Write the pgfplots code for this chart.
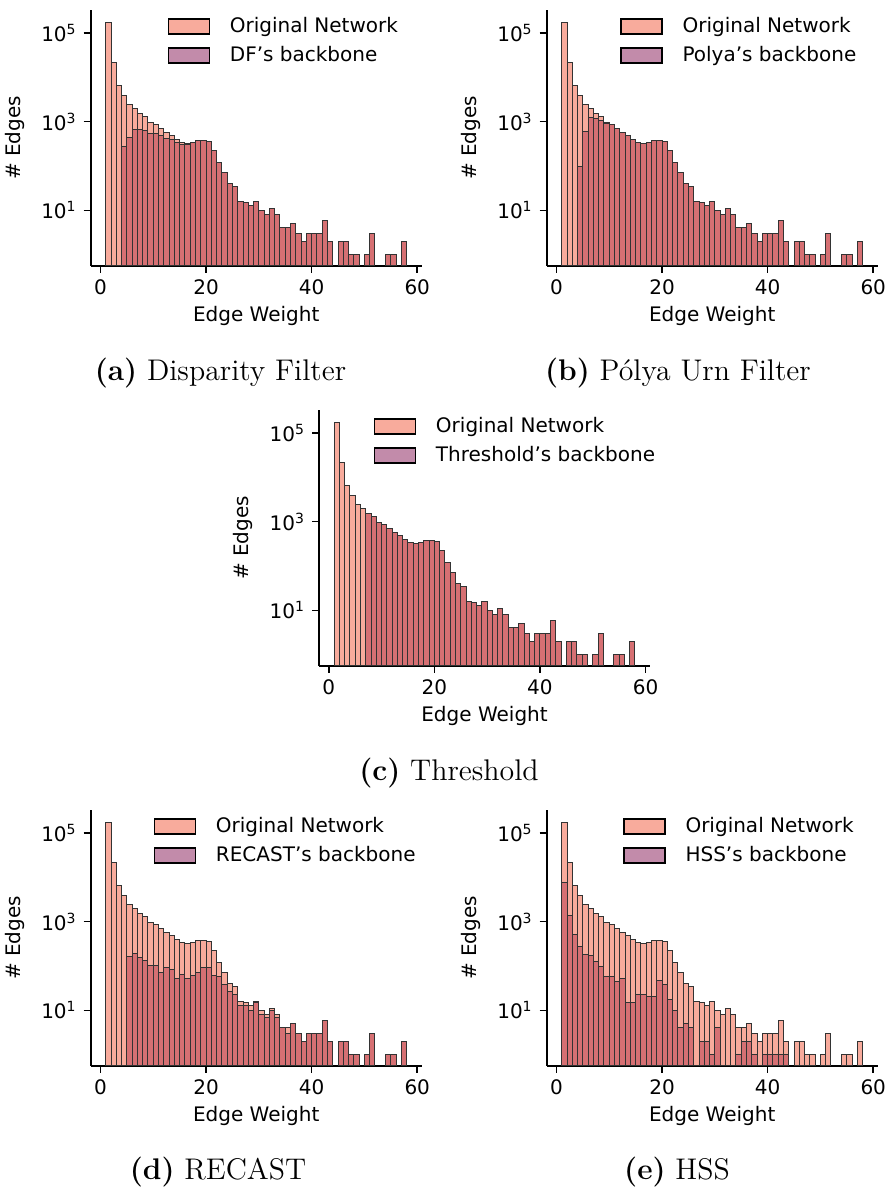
\documentclass[border=0pt]{standalone}
\usepackage{graphicx}
\usepackage{pgfplots}
\pgfplotsset{compat=1.18}
\usepackage{pgfplotstable}
\usepackage{fontspec}
\newfontfamily\dejavu{DejaVu Sans}
\definecolor{origc}{HTML}{F8AB9C}
\definecolor{overc}{HTML}{D67073}
\definecolor{purpc}{HTML}{C28BAA}

\pgfplotstableread{
x y
1.5 174000
2.5 21500
3.5 6700
4.5 3900
5.5 2480
6.5 1970
7.5 1530
8.5 1300
9.5 950
10.5 870
11.5 700
12.5 580
13.5 490
14.5 400
15.5 345
16.5 320
17.5 335
18.5 375
19.5 375
20.5 360
21.5 225
22.5 120
23.5 70
24.5 41
25.5 35
26.5 16
27.5 15
28.5 13
29.5 16
30.5 10
31.5 8
32.5 11
33.5 8
34.5 4
35.5 4
36.5 5
37.5 3
38.5 2
39.5 3
40.5 3
41.5 3
42.5 6
43.5 2
45.5 2
46.5 2
47.5 1
48.5 1
50.5 1
51.5 3
54.5 1
55.5 1
57.5 2
}\tabOrig

\pgfplotstableread{
x y
4.5 275
5.5 430
6.5 670
7.5 670
8.5 630
9.5 540
10.5 540
11.5 480
12.5 420
13.5 390
14.5 330
15.5 300
16.5 300
17.5 335
18.5 370
19.5 375
20.5 360
21.5 225
22.5 120
23.5 70
24.5 41
25.5 35
26.5 16
27.5 15
28.5 13
29.5 16
30.5 10
31.5 8
32.5 11
33.5 8
34.5 4
35.5 4
36.5 5
37.5 3
38.5 2
39.5 3
40.5 3
41.5 3
42.5 6
43.5 2
45.5 2
46.5 2
47.5 1
48.5 1
50.5 1
51.5 3
54.5 1
55.5 1
57.5 2
}\tabDF

\pgfplotstableread{
x y
4.5 98
5.5 600
6.5 1240
7.5 1150
8.5 1050
9.5 920
10.5 860
11.5 700
12.5 580
13.5 490
14.5 400
15.5 345
16.5 320
17.5 335
18.5 375
19.5 375
20.5 360
21.5 225
22.5 120
23.5 70
24.5 41
25.5 35
26.5 16
27.5 15
28.5 13
29.5 16
30.5 10
31.5 8
32.5 11
33.5 8
34.5 4
35.5 4
36.5 5
37.5 3
38.5 2
39.5 3
40.5 3
41.5 3
42.5 6
43.5 2
45.5 2
46.5 2
47.5 1
48.5 1
50.5 1
51.5 3
54.5 1
55.5 1
57.5 2
}\tabPolya

\pgfplotstableread{
x y
7.5 1530
8.5 1300
9.5 950
10.5 870
11.5 700
12.5 580
13.5 490
14.5 400
15.5 345
16.5 320
17.5 335
18.5 375
19.5 375
20.5 360
21.5 225
22.5 120
23.5 70
24.5 41
25.5 35
26.5 16
27.5 15
28.5 13
29.5 16
30.5 10
31.5 8
32.5 11
33.5 8
34.5 4
35.5 4
36.5 5
37.5 3
38.5 2
39.5 3
40.5 3
41.5 3
42.5 6
43.5 2
45.5 2
46.5 2
47.5 1
48.5 1
50.5 1
51.5 3
54.5 1
55.5 1
57.5 2
}\tabThr

\pgfplotstableread{
x y
5.5 163
6.5 193
7.5 157
8.5 132
9.5 105
10.5 105
11.5 72
12.5 93
13.5 84
14.5 53
15.5 63
16.5 53
17.5 60
18.5 71
19.5 93
20.5 93
21.5 60
22.5 58
23.5 39
24.5 26
25.5 23
26.5 13
27.5 13
28.5 10
29.5 15
30.5 8
31.5 7
32.5 10
33.5 7
34.5 4
35.5 3
36.5 5
37.5 3
38.5 2
39.5 3
40.5 3
41.5 3
42.5 6
43.5 2
45.5 2
46.5 2
47.5 1
48.5 1
50.5 1
51.5 3
54.5 1
55.5 1
57.5 2
}\tabRecast

\pgfplotstableread{
x y
1.5 7700
2.5 1400
3.5 520
4.5 273
5.5 177
6.5 171
7.5 125
8.5 97
9.5 57
10.5 57
11.5 44
12.5 53
13.5 15
14.5 15
15.5 23
16.5 23
17.5 21
18.5 21
19.5 47
20.5 38
21.5 18
22.5 10
23.5 4
24.5 5
25.5 4
27.5 2
28.5 2
29.5 1
30.5 4
34.5 1
35.5 2
36.5 2
37.5 1
39.5 1
40.5 1
41.5 1
42.5 1
43.5 1
}\tabHSS

\newcommand\capt[1]{\scalebox{1.11}{\fontsize{13.45}{16}\selectfont #1}}

\begin{document}
\begin{tikzpicture}
\useasboundingbox (0,0) rectangle (443.5pt,594.5pt);

% (a)
\begin{axis}[at={(45.35pt,461.5pt)}, anchor=south west,
    scale only axis, width=165.5pt, height=128pt,
    ymode=log, log origin=infty,
    xmin=-1.85, xmax=60.85, ymin=0.555, ymax=3.3e5,
    axis lines=left, axis line style={-, line width=0.8pt},
    xtick={0,20,40,60}, xticklabels={0,20,40,60},
    ytick={10,1000,100000},
    yticklabels={10\textsuperscript{1},10\textsuperscript{3},10\textsuperscript{5}},
    yminorticks=false, xminorticks=false,
    tick style={black, line width=0.8pt},
    tick align=outside, major tick length=3.5pt,
    tick label style={font=\dejavu\fontsize{10}{12}\selectfont},
    xlabel={Edge Weight}, ylabel={\# Edges},
    label style={font=\dejavu\fontsize{10}{12}\selectfont},
    xlabel style={at={(axis description cs:0.5,0)}, anchor=center, yshift=-25pt},
    ylabel style={at={([xshift=-29.5pt]axis description cs:0,0.5)}, anchor=south},
    clip=false,
    legend style={draw=none, fill=none, inner sep=0pt, row sep=1.5pt, column sep=7.85pt,
      font=\dejavu\fontsize{10}{12}\selectfont, anchor=north west,
      at={(axis description cs:0.231,0.988)}},
    legend cell align=left,
    legend image code/.code={\draw[#1, line width=0.8pt, draw=black] (0pt,-3.75pt) rectangle (20.5pt,3.75pt);},
  ]
\addplot[ybar, bar width=1, bar shift=0pt, fill=origc, draw=black!80, line width=0.5pt] table {\tabOrig};
\addplot[ybar, bar width=1, bar shift=0pt, fill=overc, draw=black!80, line width=0.5pt,
   legend image post style={fill=purpc}] table {\tabDF};
\legend{Original Network, DF’s backbone}
\end{axis}

% (b)
\begin{axis}[at={(273.35pt,461.5pt)}, anchor=south west,
    scale only axis, width=165.5pt, height=128pt,
    ymode=log, log origin=infty,
    xmin=-1.85, xmax=60.85, ymin=0.555, ymax=3.3e5,
    axis lines=left, axis line style={-, line width=0.8pt},
    xtick={0,20,40,60}, xticklabels={0,20,40,60},
    ytick={10,1000,100000},
    yticklabels={10\textsuperscript{1},10\textsuperscript{3},10\textsuperscript{5}},
    yminorticks=false, xminorticks=false,
    tick style={black, line width=0.8pt},
    tick align=outside, major tick length=3.5pt,
    tick label style={font=\dejavu\fontsize{10}{12}\selectfont},
    xlabel={Edge Weight}, ylabel={\# Edges},
    label style={font=\dejavu\fontsize{10}{12}\selectfont},
    xlabel style={at={(axis description cs:0.5,0)}, anchor=center, yshift=-25pt},
    ylabel style={at={([xshift=-29.5pt]axis description cs:0,0.5)}, anchor=south},
    clip=false,
    legend style={draw=none, fill=none, inner sep=0pt, row sep=1.5pt, column sep=7.85pt,
      font=\dejavu\fontsize{10}{12}\selectfont, anchor=north west,
      at={(axis description cs:0.221,0.988)}},
    legend cell align=left,
    legend image code/.code={\draw[#1, line width=0.8pt, draw=black] (0pt,-3.75pt) rectangle (20.5pt,3.75pt);},
  ]
\addplot[ybar, bar width=1, bar shift=0pt, fill=origc, draw=black!80, line width=0.5pt] table {\tabOrig};
\addplot[ybar, bar width=1, bar shift=0pt, fill=overc, draw=black!80, line width=0.5pt,
   legend image post style={fill=purpc}] table {\tabPolya};
\legend{Original Network, Polya’s backbone}
\end{axis}

% (c)
\begin{axis}[at={(159.5pt,261.5pt)}, anchor=south west,
    scale only axis, width=165.5pt, height=128pt,
    ymode=log, log origin=infty,
    xmin=-1.85, xmax=60.85, ymin=0.555, ymax=3.3e5,
    axis lines=left, axis line style={-, line width=0.8pt},
    xtick={0,20,40,60}, xticklabels={0,20,40,60},
    ytick={10,1000,100000},
    yticklabels={10\textsuperscript{1},10\textsuperscript{3},10\textsuperscript{5}},
    yminorticks=false, xminorticks=false,
    tick style={black, line width=0.8pt},
    tick align=outside, major tick length=3.5pt,
    tick label style={font=\dejavu\fontsize{10}{12}\selectfont},
    xlabel={Edge Weight}, ylabel={\# Edges},
    label style={font=\dejavu\fontsize{10}{12}\selectfont},
    xlabel style={at={(axis description cs:0.5,0)}, anchor=center, yshift=-25pt},
    ylabel style={at={([xshift=-29.5pt]axis description cs:0,0.5)}, anchor=south},
    clip=false,
    legend style={draw=none, fill=none, inner sep=0pt, row sep=1.5pt, column sep=7.85pt,
      font=\dejavu\fontsize{10}{12}\selectfont, anchor=north west,
      at={(axis description cs:0.164,0.988)}},
    legend cell align=left,
    legend image code/.code={\draw[#1, line width=0.8pt, draw=black] (0pt,-3.75pt) rectangle (20.5pt,3.75pt);},
  ]
\addplot[ybar, bar width=1, bar shift=0pt, fill=origc, draw=black!80, line width=0.5pt] table {\tabOrig};
\addplot[ybar, bar width=1, bar shift=0pt, fill=overc, draw=black!80, line width=0.5pt,
   legend image post style={fill=purpc}] table {\tabThr};
\legend{Original Network, Threshold’s backbone}
\end{axis}

% (d)
\begin{axis}[at={(45.35pt,61.5pt)}, anchor=south west,
    scale only axis, width=165.5pt, height=128pt,
    ymode=log, log origin=infty,
    xmin=-1.85, xmax=60.85, ymin=0.555, ymax=3.3e5,
    axis lines=left, axis line style={-, line width=0.8pt},
    xtick={0,20,40,60}, xticklabels={0,20,40,60},
    ytick={10,1000,100000},
    yticklabels={10\textsuperscript{1},10\textsuperscript{3},10\textsuperscript{5}},
    yminorticks=false, xminorticks=false,
    tick style={black, line width=0.8pt},
    tick align=outside, major tick length=3.5pt,
    tick label style={font=\dejavu\fontsize{10}{12}\selectfont},
    xlabel={Edge Weight}, ylabel={\# Edges},
    label style={font=\dejavu\fontsize{10}{12}\selectfont},
    xlabel style={at={(axis description cs:0.5,0)}, anchor=center, yshift=-25pt},
    ylabel style={at={([xshift=-29.5pt]axis description cs:0,0.5)}, anchor=south},
    clip=false,
    legend style={draw=none, fill=none, inner sep=0pt, row sep=1.5pt, column sep=7.85pt,
      font=\dejavu\fontsize{10}{12}\selectfont, anchor=north west,
      at={(axis description cs:0.189,0.988)}},
    legend cell align=left,
    legend image code/.code={\draw[#1, line width=0.8pt, draw=black] (0pt,-3.75pt) rectangle (20.5pt,3.75pt);},
  ]
\addplot[ybar, bar width=1, bar shift=0pt, fill=origc, draw=black!80, line width=0.5pt] table {\tabOrig};
\addplot[ybar, bar width=1, bar shift=0pt, fill=overc, draw=black!80, line width=0.5pt,
   legend image post style={fill=purpc}] table {\tabRecast};
\legend{Original Network, RECAST’s backbone}
\end{axis}

% (e)
\begin{axis}[at={(273.35pt,61.5pt)}, anchor=south west,
    scale only axis, width=165.5pt, height=128pt,
    ymode=log, log origin=infty,
    xmin=-1.85, xmax=60.85, ymin=0.555, ymax=3.3e5,
    axis lines=left, axis line style={-, line width=0.8pt},
    xtick={0,20,40,60}, xticklabels={0,20,40,60},
    ytick={10,1000,100000},
    yticklabels={10\textsuperscript{1},10\textsuperscript{3},10\textsuperscript{5}},
    yminorticks=false, xminorticks=false,
    tick style={black, line width=0.8pt},
    tick align=outside, major tick length=3.5pt,
    tick label style={font=\dejavu\fontsize{10}{12}\selectfont},
    xlabel={Edge Weight}, ylabel={\# Edges},
    label style={font=\dejavu\fontsize{10}{12}\selectfont},
    xlabel style={at={(axis description cs:0.5,0)}, anchor=center, yshift=-25pt},
    ylabel style={at={([xshift=-29.5pt]axis description cs:0,0.5)}, anchor=south},
    clip=false,
    legend style={draw=none, fill=none, inner sep=0pt, row sep=1.5pt, column sep=7.85pt,
      font=\dejavu\fontsize{10}{12}\selectfont, anchor=north west,
      at={(axis description cs:0.23,0.988)}},
    legend cell align=left,
    legend image code/.code={\draw[#1, line width=0.8pt, draw=black] (0pt,-3.75pt) rectangle (20.5pt,3.75pt);},
  ]
\addplot[ybar, bar width=1, bar shift=0pt, fill=origc, draw=black!80, line width=0.5pt] table {\tabOrig};
\addplot[ybar, bar width=1, bar shift=0pt, fill=overc, draw=black!80, line width=0.5pt,
   legend image post style={fill=purpc}] table {\tabHSS};
\legend{Original Network, HSS’s backbone}
\end{axis}

\node[inner sep=0pt] at (110.25pt,407.75pt) {\capt{\textbf{(a)} Disparity Filter}};
\node[inner sep=0pt] at (339pt,407.75pt) {\capt{\textbf{(b)} Pólya Urn Filter}};
\node[inner sep=0pt] at (224.5pt,208pt) {\capt{\textbf{(c)} Threshold}};
\node[inner sep=0pt] at (109pt,8.5pt) {\capt{\textbf{(d)} RECAST}};
\node[inner sep=0pt] at (338.5pt,8.5pt) {\capt{\textbf{(e)} HSS}};
\end{tikzpicture}
\end{document}
